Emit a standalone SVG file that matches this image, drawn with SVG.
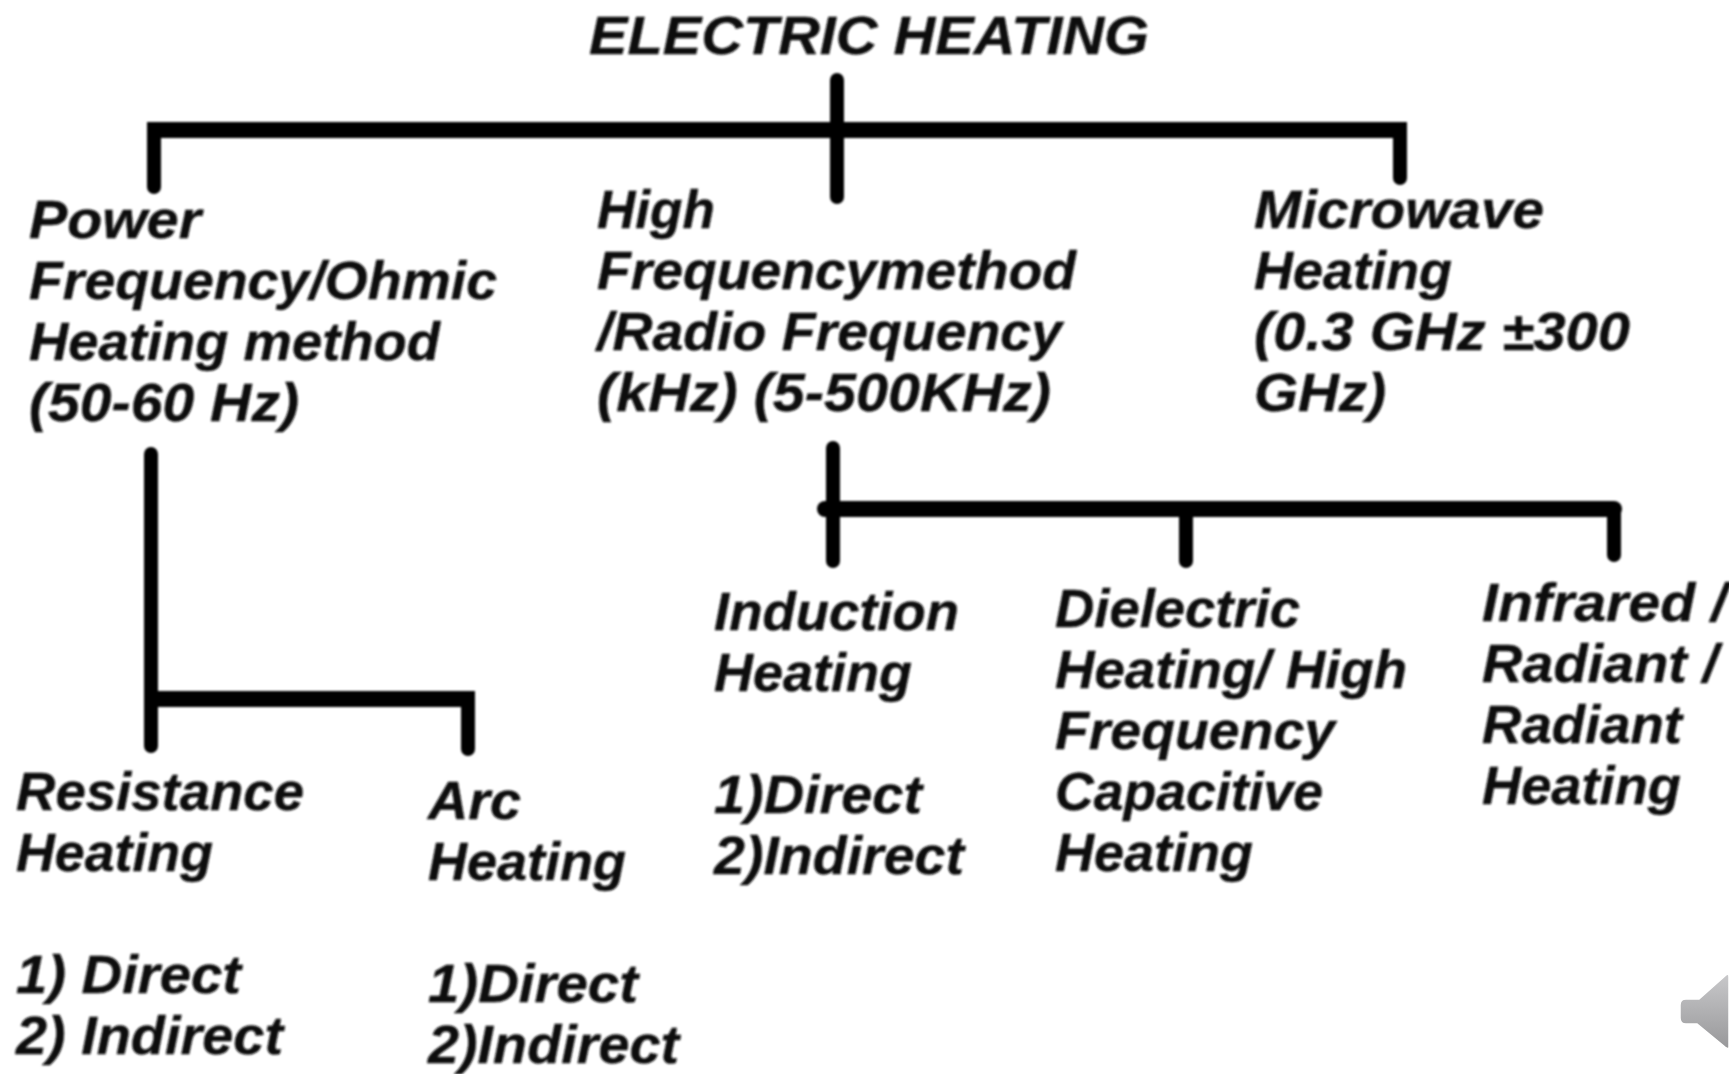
<svg xmlns="http://www.w3.org/2000/svg" width="1729" height="1074" viewBox="0 0 1729 1074">
<defs>
<filter id="soft" x="-5%" y="-5%" width="110%" height="110%"><feGaussianBlur stdDeviation="0.9"/></filter>
<linearGradient id="spk" x1="0" y1="0" x2="0" y2="1"><stop offset="0" stop-color="#c8c8ca"/><stop offset="1" stop-color="#98989a"/></linearGradient>
</defs>
<style>
.t{font-family:"Liberation Sans",Arial,sans-serif;font-weight:bold;font-style:italic;font-size:54px;fill:#111;stroke:#111;stroke-width:.4}
.c{fill:none;stroke:#000;stroke-linecap:round;stroke-linejoin:round;stroke-width:14}
.h{fill:none;stroke:#000;stroke-width:16}
.r{stroke-linecap:round}
</style>
<rect width="1729" height="1074" fill="#fff"/>
<g id="connectors" filter="url(#soft)">
<path class="c" d="M154 187V130"/>
<path class="h" d="M147 130H1407"/>
<path class="c" d="M1400 130V178"/>
<path class="c" d="M837 80V197"/>
<path class="c" d="M151 454V746"/>
<path class="h" d="M151 699H475"/>
<path class="c" d="M468 699V749"/>
<path class="c" d="M833 448V561"/>
<path class="h r" d="M825 509H1614"/>
<path class="c" d="M1186 509V561"/>
<path class="c" d="M1614 509V555"/>
</g>
<g filter="url(#soft)">
<g id="root"><text class="t" x="589" y="54" textLength="560" lengthAdjust="spacingAndGlyphs">ELECTRIC HEATING</text></g>
<g id="power"><text class="t" x="29" y="238" textLength="172" lengthAdjust="spacingAndGlyphs">Power</text><text class="t" x="29" y="299" textLength="468" lengthAdjust="spacingAndGlyphs">Frequency/Ohmic</text><text class="t" x="29" y="360" textLength="411" lengthAdjust="spacingAndGlyphs">Heating method</text><text class="t" x="29" y="421" textLength="270" lengthAdjust="spacingAndGlyphs">(50-60 Hz)</text></g>
<g id="high-frequency"><text class="t" x="597" y="228" textLength="118" lengthAdjust="spacingAndGlyphs">High</text><text class="t" x="597" y="289" textLength="479" lengthAdjust="spacingAndGlyphs">Frequencymethod</text><text class="t" x="597" y="350" textLength="465" lengthAdjust="spacingAndGlyphs">/Radio Frequency</text><text class="t" x="597" y="411" textLength="454" lengthAdjust="spacingAndGlyphs">(kHz) (5-500KHz)</text></g>
<g id="microwave"><text class="t" x="1254" y="228" textLength="290" lengthAdjust="spacingAndGlyphs">Microwave</text><text class="t" x="1254" y="289" textLength="198" lengthAdjust="spacingAndGlyphs">Heating</text><text class="t" x="1254" y="350" textLength="376" lengthAdjust="spacingAndGlyphs">(0.3 GHz ±300</text><text class="t" x="1254" y="411" textLength="132" lengthAdjust="spacingAndGlyphs">GHz)</text></g>
<g id="resistance"><text class="t" x="16" y="810" textLength="288" lengthAdjust="spacingAndGlyphs">Resistance</text><text class="t" x="16" y="871" textLength="197" lengthAdjust="spacingAndGlyphs">Heating</text><text class="t" x="16" y="993" textLength="225" lengthAdjust="spacingAndGlyphs">1) Direct</text><text class="t" x="16" y="1054" textLength="267" lengthAdjust="spacingAndGlyphs">2) Indirect</text></g>
<g id="arc"><text class="t" x="428" y="819" textLength="93" lengthAdjust="spacingAndGlyphs">Arc</text><text class="t" x="428" y="880" textLength="198" lengthAdjust="spacingAndGlyphs">Heating</text><text class="t" x="428" y="1002" textLength="210" lengthAdjust="spacingAndGlyphs">1)Direct</text><text class="t" x="428" y="1063" textLength="251" lengthAdjust="spacingAndGlyphs">2)Indirect</text></g>
<g id="induction"><text class="t" x="714" y="630" textLength="245" lengthAdjust="spacingAndGlyphs">Induction</text><text class="t" x="714" y="691" textLength="198" lengthAdjust="spacingAndGlyphs">Heating</text><text class="t" x="714" y="813" textLength="208" lengthAdjust="spacingAndGlyphs">1)Direct</text><text class="t" x="714" y="874" textLength="250" lengthAdjust="spacingAndGlyphs">2)Indirect</text></g>
<g id="dielectric"><text class="t" x="1055" y="627" textLength="245" lengthAdjust="spacingAndGlyphs">Dielectric</text><text class="t" x="1055" y="688" textLength="352" lengthAdjust="spacingAndGlyphs">Heating/ High</text><text class="t" x="1055" y="749" textLength="280" lengthAdjust="spacingAndGlyphs">Frequency</text><text class="t" x="1055" y="810" textLength="268" lengthAdjust="spacingAndGlyphs">Capacitive</text><text class="t" x="1055" y="871" textLength="198" lengthAdjust="spacingAndGlyphs">Heating</text></g>
<g id="infrared"><text class="t" x="1482" y="621" textLength="245" lengthAdjust="spacingAndGlyphs">Infrared /</text><text class="t" x="1482" y="682" textLength="236" lengthAdjust="spacingAndGlyphs">Radiant /</text><text class="t" x="1482" y="743" textLength="200" lengthAdjust="spacingAndGlyphs">Radiant</text><text class="t" x="1482" y="804" textLength="199" lengthAdjust="spacingAndGlyphs">Heating</text></g>
</g>
<g id="speaker">
<path d="M1686 999H1699L1726 975Q1729 973 1729 977V1047Q1729 1050 1725 1047L1697 1024H1686Q1680 1024 1680 1018V1005Q1680 999 1686 999Z" fill="url(#spk)" stroke="#fff" stroke-width="1.5"/>
</g>
</svg>
